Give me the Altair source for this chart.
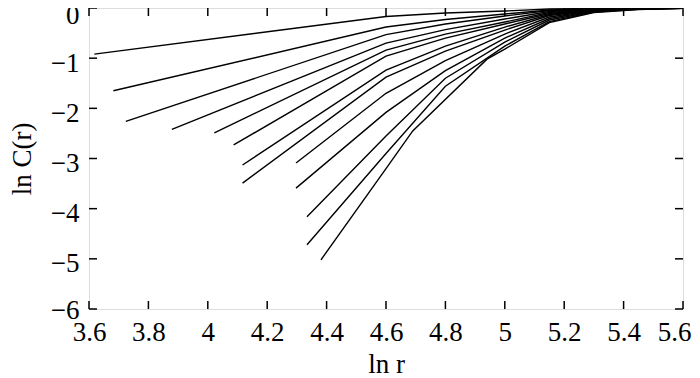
import altair as alt
import pandas as pd

# ---- data (ln r, ln C(r)) ----
curve_ids = list(range(1, 14))
start_lnr = [3.618, 3.682, 3.724, 3.879, 4.022, 4.087, 4.117, 4.117, 4.297, 4.297, 4.334, 4.334, 4.381]
start_lnc = [-0.92, -1.65, -2.26, -2.42, -2.49, -2.73, -3.13, -3.49, -3.09, -3.59, -4.16, -4.72, -5.02]
lnc_at_4_6 = [-0.17, -0.38, -0.53, -0.70, -0.84, -0.96, -1.24, -1.38, -1.70, -2.08, -2.55, -2.90, -3.20]
lnc_at_4_8 = [-0.10, -0.23, -0.32, -0.43, -0.52, -0.60, -0.76, -0.86, -1.05, -1.25, -1.40, -1.56, None]
lnc_at_5_0 = [-0.06, -0.12, -0.16, -0.22, -0.28, -0.32, -0.38, -0.44, -0.52, -0.60, -0.68, -0.76, -0.82]
lnc_at_5_15 = [-0.02, -0.04, -0.05, -0.07, -0.09, -0.11, -0.13, -0.15, -0.18, -0.21, -0.24, -0.27, -0.29]
lnc_at_5_3 = [-0.01, -0.015, -0.02, -0.025, -0.03, -0.035, -0.04, -0.045, -0.05, -0.06, -0.07, -0.08, -0.09]
lnc_at_5_45 = [-0.005, -0.005, -0.01, -0.01, -0.01, -0.012, -0.014, -0.016, -0.018, -0.02, -0.022, -0.025, -0.03]
lnc_at_5_6 = [0.0, 0.0, 0.0, 0.0, 0.0, 0.0, 0.0, 0.0, -0.005, -0.005, -0.005, -0.005, -0.005]
# extra knees of the lowest curve
last_knee_lnr = [4.69, 4.94]
last_knee_lnc = [-2.45, -1.02]

x_ticks = [3.6, 3.8, 4.0, 4.2, 4.4, 4.6, 4.8, 5.0, 5.2, 5.4, 5.6]
y_ticks = [-6, -5, -4, -3, -2, -1, 0]

rows = []
for i, cid in enumerate(curve_ids):
    pts = [(start_lnr[i], start_lnc[i])]
    if start_lnr[i] < 4.6:
        pts.append((4.6, lnc_at_4_6[i]))
    if lnc_at_4_8[i] is not None:
        pts.append((4.8, lnc_at_4_8[i]))
    if cid == 13:
        pts += list(zip(last_knee_lnr, last_knee_lnc))
    pts += [(5.0, lnc_at_5_0[i]), (5.15, lnc_at_5_15[i]), (5.3, lnc_at_5_3[i]),
            (5.45, lnc_at_5_45[i]), (5.6, lnc_at_5_6[i])]
    for k, (xv, yv) in enumerate(pts):
        rows.append({"curve": cid, "idx": k, "lnr": xv, "lnc": yv})
df = pd.DataFrame(rows)
xt = pd.DataFrame({"t": x_ticks})
yt = pd.DataFrame({"t": y_ticks})

W, H = 594, 301
FONT = "Times New Roman, Liberation Serif, DejaVu Serif, serif"
FS = 27
TL = 8

xscale = alt.Scale(domain=[3.6, 5.6], nice=False, zero=False)
yscale = alt.Scale(domain=[-6, 0], nice=False, zero=False)

lines = alt.Chart(df).mark_line(color="black", strokeWidth=1.4).encode(
    x=alt.X("lnr:Q", scale=xscale,
            axis=alt.Axis(values=x_ticks, format="~g", ticks=False, domain=False, grid=False,
                          labelFlush=False,
                          labelAlign={"expr": "datum.value > 5.55 ? 'right' : 'center'"},
                          labelOffset={"expr": "datum.value > 5.55 ? 8 : 0"},
                          labelFont=FONT, labelFontSize=FS, labelColor="black", labelPadding=10,
                          title="ln r", titleFont=FONT, titleFontSize=FS, titleFontWeight="normal",
                          titleColor="black", titleY=55, titleBaseline="middle")),
    y=alt.Y("lnc:Q", scale=yscale,
            axis=alt.Axis(values=y_ticks, format="~g", ticks=False, domain=False, grid=False,
                          labelFlush=False,
                          labelFont=FONT, labelFontSize=FS, labelColor="black", labelPadding=10,
                          labelOffset={"expr": "datum.value > -0.5 ? 7 : (datum.value < -5.5 ? 1 : 5)"},
                          title="ln C(r)", titleFont=FONT, titleFontSize=FS, titleFontWeight="normal",
                          titleColor="black", titleX=-67, titleBaseline="middle")),
    detail="curve:N",
    order="idx:Q",
)

bottom_ticks = alt.Chart(xt).mark_rule(color="black", strokeWidth=1.5).encode(
    x=alt.X("t:Q", scale=xscale), y=alt.value(H), y2=alt.value(H - TL))
top_ticks = alt.Chart(xt).mark_rule(color="black", strokeWidth=1.5).encode(
    x=alt.X("t:Q", scale=xscale), y=alt.value(0), y2=alt.value(TL))
left_ticks = alt.Chart(yt).mark_rule(color="black", strokeWidth=1.5).encode(
    y=alt.Y("t:Q", scale=yscale), x=alt.value(0), x2=alt.value(TL))
right_ticks = alt.Chart(yt).mark_rule(color="black", strokeWidth=1.5).encode(
    y=alt.Y("t:Q", scale=yscale), x=alt.value(W), x2=alt.value(W - TL))

chart = alt.layer(lines, bottom_ticks, top_ticks, left_ticks, right_ticks).properties(
    width=W, height=H,
    autosize=alt.AutoSizeParams(type="none"),
    padding={"left": 81, "top": 0, "right": 9, "bottom": 69},
).configure_view(stroke="black", strokeWidth=2.5).configure(background="white")

chart.save("out.html", embed_options={"renderer": "svg", "actions": False})
